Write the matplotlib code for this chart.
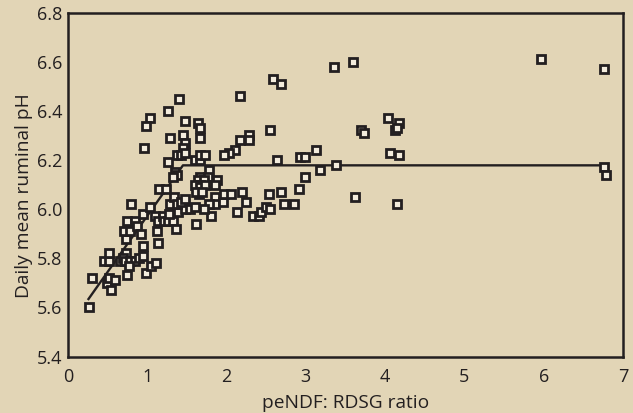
import matplotlib
matplotlib.use("Agg")
import matplotlib.pyplot as plt

# peNDF:RDSG ratio (x) and daily mean ruminal pH (y)
ratio = [0.27, 0.30, 0.45, 0.52, 0.52, 0.49, 0.52, 0.59, 0.54, 0.66,
         0.73, 0.69, 0.72, 0.78, 0.84, 0.89, 0.94, 0.77, 0.74, 0.94,
         0.98, 1.05, 1.11, 0.73, 0.71, 0.78, 0.74, 0.84, 0.87, 0.92,
         0.95, 0.79, 1.04, 1.10, 1.14, 1.12, 1.13, 1.20, 1.21, 1.26,
         1.32, 1.36, 1.27, 1.39, 1.47, 1.54, 1.60, 1.29, 1.34, 1.37,
         1.42, 1.48, 1.62, 1.65, 1.80, 1.86, 1.86, 1.78, 1.95, 1.72,
         1.97, 2.06, 2.13, 2.19, 2.25, 2.33, 2.41, 2.44, 2.50, 2.55,
         2.53, 2.69, 2.72, 2.85, 2.91, 1.15, 1.24, 1.26, 1.35, 1.38,
         1.33, 1.60, 1.67, 1.78, 1.67, 1.77, 1.64, 1.71, 1.66, 1.60,
         1.66, 1.73, 1.62, 1.69, 1.88, 1.86,
         1.40, 2.17, 1.26, 1.04, 0.98, 1.48, 1.64, 1.67, 1.29, 1.45,
         1.48, 1.67, 0.96, 2.17, 1.45, 1.37, 1.43, 1.48, 1.67, 1.73,
         2.11, 2.03, 1.97, 2.28, 2.28, 2.55, 2.58, 2.69, 3.35, 3.60,
         3.13, 2.93, 2.99, 2.64, 3.38, 3.18, 2.99, 3.62, 4.04, 4.17,
         4.12, 4.15, 3.70, 3.73, 4.06, 4.17, 4.15, 5.96, 6.76, 6.76,
         6.78]
ph = [5.60, 5.72, 5.79, 5.79, 5.82, 5.70, 5.72, 5.71, 5.67, 5.79,
      5.82, 5.80, 5.79, 5.79, 5.79, 5.80, 5.81, 5.77, 5.73, 5.85,
      5.74, 5.77, 5.78, 5.88, 5.91, 5.91, 5.95, 5.95, 5.93, 5.90,
      5.98, 6.02, 6.01, 5.97, 5.95, 5.91, 5.86, 5.97, 5.95, 5.95,
      5.95, 5.92, 5.98, 5.99, 6.00, 6.00, 6.01, 6.02, 6.05, 6.02,
      6.03, 6.04, 5.94, 6.06, 5.97, 6.05, 6.02, 6.02, 6.03, 6.00,
      6.06, 6.06, 5.99, 6.07, 6.03, 5.97, 5.97, 5.99, 6.01, 6.00,
      6.06, 6.07, 6.02, 6.02, 6.08, 6.08, 6.08, 6.19, 6.15, 6.14,
      6.13, 6.20, 6.20, 6.16, 6.13, 6.13, 6.12, 6.12, 6.10, 6.10,
      6.09, 6.10, 6.07, 6.07, 6.12, 6.10,
      6.45, 6.46, 6.40, 6.37, 6.34, 6.36, 6.35, 6.33, 6.29, 6.30,
      6.27, 6.29, 6.25, 6.28, 6.25, 6.22, 6.22, 6.23, 6.22, 6.22,
      6.24, 6.23, 6.22, 6.30, 6.28, 6.32, 6.53, 6.51, 6.58, 6.60,
      6.24, 6.21, 6.21, 6.20, 6.18, 6.16, 6.13, 6.05, 6.37, 6.35,
      6.32, 6.33, 6.32, 6.31, 6.23, 6.22, 6.02, 6.61, 6.57, 6.17,
      6.14]

# broken-line fit
fit_x = [0.25, 1.45, 6.76]
fit_y = [5.63, 6.178, 6.178]

x_ticks = [0, 1, 2, 3, 4, 5, 6, 7]
y_ticks = [5.4, 5.6, 5.8, 6.0, 6.2, 6.4, 6.6, 6.8]

BG = "#E2D5B6"
INK = "#231F20"

plt.rcParams["font.family"] = ["Open Sans", "DejaVu Sans"]

fig = plt.figure(figsize=(6.33, 4.13), dpi=100, facecolor=BG)
ax = fig.add_axes([0.1074, 0.1368, 0.8768, 0.8329], facecolor=BG)

ax.plot(fit_x, fit_y, color=INK, lw=1.7, solid_capstyle="butt", zorder=2)
ax.plot(ratio, ph, linestyle="none", marker="s", markersize=5.3,
        markerfacecolor="#F3ECDD", markeredgecolor=INK, markeredgewidth=2.0,
        zorder=3)

ax.set_xlim(0, 7)
ax.set_ylim(5.4, 6.8)
ax.set_xticks(x_ticks)
ax.set_xticklabels([str(v) for v in x_ticks])
ax.set_yticks(y_ticks)
ax.set_yticklabels([f"{v:.1f}" for v in y_ticks])
ax.tick_params(axis="both", length=0, labelsize=13, colors=INK)
ax.tick_params(axis="x", pad=8)
ax.tick_params(axis="y", pad=4)

for s in ax.spines.values():
    s.set_color(INK)
    s.set_linewidth(1.8)

ax.set_xlabel("peNDF: RDSG ratio", fontsize=13.8, color=INK, labelpad=6)
ax.set_ylabel("Daily mean ruminal pH", fontsize=13.8, color=INK)
ax.yaxis.set_label_coords(-0.063, 0.467)

fig.savefig("out.png", dpi=100, facecolor=BG)
